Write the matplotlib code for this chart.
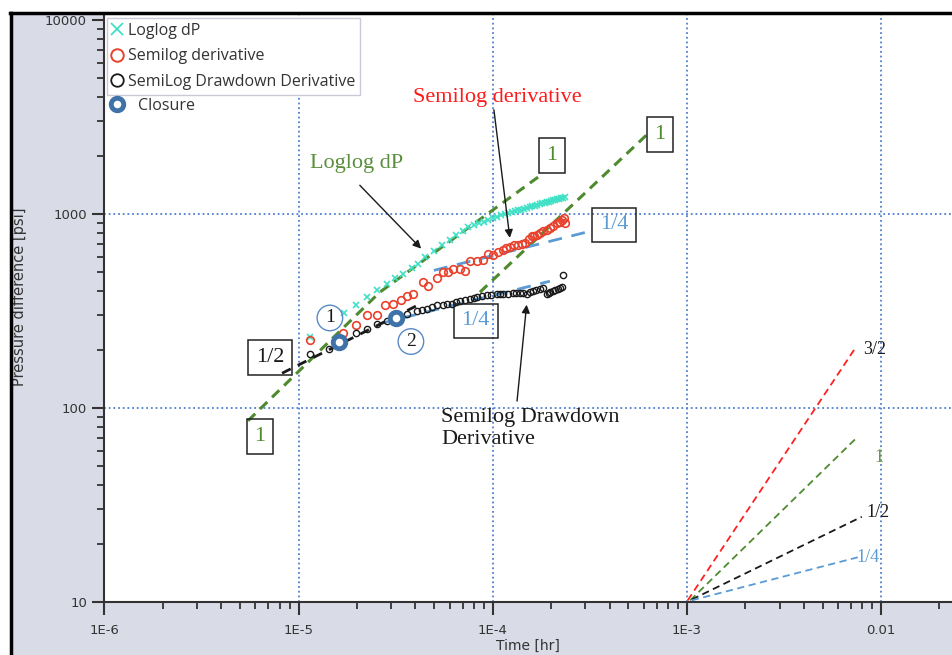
import matplotlib
matplotlib.use("Agg")
import matplotlib.pyplot as plt
from matplotlib.lines import Line2D
from matplotlib.patches import Rectangle
from matplotlib.ticker import FixedLocator, FixedFormatter, LogLocator, NullFormatter

# ---------------- data ----------------
x_ticks = [1e-6, 1e-5, 1e-4, 1e-3, 1e-2]
x_tick_labels = ["1E-6", "1E-5", "1E-4", "1E-3", "0.01"]
y_ticks = [10, 100, 1000, 10000]
y_tick_labels = ["10", "100", "1000", "10000"]

loglog_t = [1.15e-5, 1.71e-5, 1.98e-5, 2.25e-5, 2.53e-5, 2.85e-5, 3.14e-5, 3.45e-5, 3.84e-5, 4.12e-5,
            4.5e-5, 5.0e-5, 5.5e-5, 6.0e-5, 6.5e-5, 7.0e-5, 7.5e-5, 8.0e-5, 8.5e-5, 9.0e-5, 9.5e-5,
            1.0e-4, 1.05e-4, 1.1e-4, 1.15e-4, 1.2e-4, 1.25e-4, 1.3e-4, 1.35e-4, 1.4e-4, 1.45e-4,
            1.5e-4, 1.55e-4, 1.6e-4, 1.65e-4, 1.7e-4, 1.75e-4, 1.8e-4, 1.85e-4, 1.9e-4, 1.95e-4,
            2.0e-4, 2.05e-4, 2.1e-4, 2.15e-4, 2.2e-4, 2.25e-4, 2.3e-4, 2.35e-4]
loglog_p = [233, 310, 340, 372, 404, 434, 467, 492, 525, 552,
            602, 647, 691, 735, 777, 818, 855, 875, 894, 912, 931,
            948, 966, 982, 998, 1009, 1021, 1033, 1044, 1054, 1065,
            1076, 1086, 1096, 1105, 1114, 1124, 1132, 1141, 1150, 1158,
            1166, 1175, 1183, 1191, 1197, 1205, 1213, 1222]

semilog_t = [1.15e-5, 1.69e-5, 1.98e-5, 2.25e-5, 2.53e-5, 2.79e-5, 3.06e-5, 3.36e-5, 3.61e-5, 3.88e-5,
             4.38e-5, 4.63e-5, 5.16e-5, 5.53e-5, 5.87e-5, 6.24e-5, 6.78e-5, 7.19e-5, 7.64e-5, 8.30e-5,
             8.91e-5, 9.45e-5, 1.0e-4, 1.06e-4, 1.13e-4, 1.17e-4, 1.23e-4, 1.29e-4, 1.35e-4, 1.41e-4,
             1.47e-4, 1.53e-4, 1.59e-4, 1.64e-4, 1.69e-4, 1.75e-4, 1.82e-4, 1.90e-4, 1.97e-4, 2.05e-4,
             2.14e-4, 2.21e-4, 2.28e-4, 2.32e-4, 2.36e-4]
semilog_p = [225, 244, 268, 302, 302, 340, 344, 360, 377, 386,
             444, 424, 466, 500, 500, 518, 518, 506, 575, 575,
             582, 618, 611, 633, 655, 665, 679, 690, 695, 700,
             711, 740, 773, 770, 781, 800, 819, 830, 849, 870,
             900, 910, 931, 950, 900]

drawdown_t = [1.15e-5, 1.43e-5, 1.98e-5, 2.25e-5, 2.53e-5, 2.85e-5, 3.3e-5, 3.6e-5, 4.07e-5, 4.3e-5,
              4.58e-5, 4.85e-5, 5.16e-5, 5.53e-5, 5.8e-5, 6.17e-5, 6.5e-5, 6.78e-5, 7.2e-5, 7.64e-5,
              8.0e-5, 8.3e-5, 8.8e-5, 9.33e-5, 9.8e-5, 1.05e-4, 1.09e-4, 1.13e-4, 1.2e-4, 1.27e-4,
              1.32e-4, 1.38e-4, 1.44e-4, 1.50e-4, 1.56e-4, 1.61e-4, 1.68e-4, 1.75e-4, 1.82e-4, 1.90e-4,
              1.94e-4, 1.98e-4, 2.04e-4, 2.10e-4, 2.16e-4, 2.22e-4, 2.28e-4, 2.30e-4]
drawdown_p = [189, 202, 244, 256, 272, 281, 296, 305, 316, 320,
              324, 332, 340, 340, 342, 344, 350, 356, 360, 364,
              368, 373, 378, 382, 384, 386, 386, 386, 388, 391,
              393, 391, 390, 386, 394, 400, 405, 410, 414, 386,
              390, 395, 400, 406, 411, 416, 421, 483]

closure_t = [1.61e-5, 3.17e-5]
closure_p = [220, 291]

# straight-line guides (log-log)
green1_t = [5.49e-6, 2.62e-5, 1.82e-4]
green1_p = [85.9, 395, 1618]
green2_t = [8.59e-5, 6.29e-4]
green2_p = [395, 2588]
half_t = [8.22e-6, 4.22e-5]
half_p = [151, 343]
quarter_up_t = [4.98e-5, 3.09e-4]
quarter_up_p = [512, 809]
quarter_lo_t = [2.62e-5, 1.97e-4]
quarter_lo_p = [272, 450]

# slope fan
fan_red_t = [1.01e-3, 7.33e-3];  fan_red_p = [10.2, 202]
fan_green_t = [1.04e-3, 7.5e-3]; fan_green_p = [10.2, 70.3]
fan_black_t = [1.06e-3, 7.96e-3]; fan_black_p = [10.3, 27.5]
fan_blue_t = [1.06e-3, 7.59e-3]; fan_blue_p = [10.2, 17.0]

# ---------------- style ----------------
TEAL = "#3fe0c5"
RED = "#e8412c"
BLACK = "#1a1a1a"
GREEN = "#4f8a2f"
BLUE = "#5b9bd5"
GRID = "#4f7fd0"
CLOS = "#3f72a8"
SERIF = "Liberation Serif"

fig = plt.figure(figsize=(9.52, 6.55), dpi=100, facecolor="white")
fig.add_artist(Rectangle((11/952, 0), 1 - 11/952, 1 - 13/655, transform=fig.transFigure,
                         facecolor="#d9dbe7", edgecolor="none", zorder=0))
fig.add_artist(Line2D([10/952, 1], [1 - 13/655, 1 - 13/655], transform=fig.transFigure,
                      color="black", lw=2.5, zorder=5))
fig.add_artist(Line2D([11/952, 11/952], [0, 1 - 13/655], transform=fig.transFigure,
                      color="black", lw=2.5, zorder=5))

ax = fig.add_axes([104.4/952, 53/655, (952 - 104.4)/952, (602 - 15)/655])
ax.set_facecolor("white")
ax.set_xscale("log")
ax.set_yscale("log")
ax.set_xlim(1e-6, 0.0232)
ax.set_ylim(10, 10600)

ax.xaxis.set_major_locator(FixedLocator(x_ticks))
ax.xaxis.set_major_formatter(FixedFormatter(x_tick_labels))
ax.yaxis.set_major_locator(FixedLocator(y_ticks))
ax.yaxis.set_major_formatter(FixedFormatter(y_tick_labels))
ax.xaxis.set_minor_locator(LogLocator(base=10, subs=range(2, 10), numticks=20))
ax.yaxis.set_minor_locator(LogLocator(base=10, subs=range(2, 10), numticks=20))
ax.xaxis.set_minor_formatter(NullFormatter())
ax.yaxis.set_minor_formatter(NullFormatter())
ax.tick_params(which="major", length=9, width=1.5, color="#333333", direction="out",
               labelsize=9.5, labelcolor="#333333", pad=3.5)
ax.tick_params(axis="x", which="major", pad=6.5)
ax.tick_params(which="minor", length=5, width=1.3, color="#333333", direction="out")
for s in ["top", "right"]:
    ax.spines[s].set_visible(False)
for s in ["left", "bottom"]:
    ax.spines[s].set_color("#333333")
    ax.spines[s].set_linewidth(1.5)

ax.grid(True, which="major", color=GRID, linestyle=(0, (1, 1.6)), linewidth=1.3, zorder=0)
ax.set_axisbelow(True)
ax.yaxis.get_gridlines()[-1].set_visible(False)

ax.set_xlabel("Time [hr]", fontsize=10, color="#333333", labelpad=2)
ax.set_ylabel("Pressure difference [psi]", fontsize=10.5, color="#333333")
ax.yaxis.set_label_coords(-0.0913, 0.52)

# guides
ax.plot(green1_t, green1_p, color=GREEN, lw=2.2, linestyle=(0, (3.3, 2.2)), zorder=2)
ax.plot(green2_t, green2_p, color=GREEN, lw=2.2, linestyle=(0, (3.3, 2.2)), zorder=2)
ax.plot(half_t, half_p, color=BLACK, lw=2.0, linestyle=(0, (3.5, 2.8)), zorder=4)
ax.plot(quarter_up_t, quarter_up_p, color=BLUE, lw=2.0, linestyle=(0, (5, 3.5)), zorder=2)
ax.plot(quarter_lo_t, quarter_lo_p, color=BLUE, lw=2.0, linestyle=(0, (5, 3.5)), zorder=2)

# data series
ax.plot(loglog_t, loglog_p, ls="none", marker="x", ms=5, mew=1.2, color=TEAL, zorder=3)
ax.plot(semilog_t, semilog_p, ls="none", marker="o", ms=5.5, mew=1.2, mfc="none", mec=RED, zorder=3)
ax.plot(drawdown_t, drawdown_p, ls="none", marker="o", ms=4.5, mew=1.0, mfc="none", mec=BLACK, zorder=3)
ax.plot(closure_t, closure_p, ls="none", marker="o", ms=9, mew=3.5, mfc="white", mec=CLOS, zorder=5)

# slope fan
ax.plot(fan_red_t, fan_red_p, color="#ff2020", lw=1.3, linestyle=(0, (4, 2.5)))
ax.plot(fan_green_t, fan_green_p, color=GREEN, lw=1.3, linestyle=(0, (4, 2.5)))
ax.plot(fan_black_t, fan_black_p, color=BLACK, lw=1.3, linestyle=(0, (4, 2.5)))
ax.plot(fan_blue_t, fan_blue_p, color=BLUE, lw=1.3, linestyle=(0, (4, 2.5)))
ax.text(8.05e-3, 200, "3/2", fontsize=13, family=SERIF, color=BLACK, ha="left", va="center")
ax.text(9.29e-3, 55.6, "1", fontsize=13, family=SERIF, color="#6a9a40", ha="left", va="center")
ax.text(8.45e-3, 28.8, "1/2", fontsize=13, family=SERIF, color=BLACK, ha="left", va="center")
ax.text(7.5e-3, 17.0, "1/4", fontsize=13, family=SERIF, color=BLUE, ha="left", va="center")

# boxed slope labels
def boxed(t, p, s, c):
    ax.text(t, p, s, fontsize=16, family=SERIF, color=c, ha="center", va="center", zorder=6,
            bbox=dict(boxstyle="square,pad=0.35", fc="none", ec="#222222", lw=1.1))

boxed(7.13e-6, 182, "1/2", BLACK)
boxed(6.33e-6, 71.1, "1", GREEN)
boxed(2.02e-4, 2000, "1", GREEN)
boxed(7.26e-4, 2559, "1", GREEN)
boxed(4.21e-4, 879, "1/4", BLUE)
boxed(8.18e-5, 281, "1/4", BLUE)

# circled closure numbers
for t, p, s in [(1.45e-5, 291, "1"), (3.79e-5, 220, "2")]:
    ax.text(t, p, s, fontsize=14, family=SERIF, color=BLACK, ha="center", va="center", zorder=6,
            bbox=dict(boxstyle="circle,pad=0.22", fc="none", ec="#5a8ac6", lw=1.0))

# annotations
ax.text(1.98e-5, 1820, "Loglog dP", fontsize=16, family=SERIF, color="#5b8f3e", ha="center", va="center")
ax.annotate("", xy=(4.38e-5, 647), xytext=(2.02e-5, 1439),
            arrowprops=dict(arrowstyle="-|>", color=BLACK, lw=1.0, mutation_scale=12))
ax.text(1.05e-4, 4000, "Semilog derivative", fontsize=16, family=SERIF, color="#ff1a1a",
        ha="center", va="center")
ax.annotate("", xy=(1.23e-4, 728), xytext=(1.01e-4, 3556),
            arrowprops=dict(arrowstyle="-|>", color=BLACK, lw=1.0, mutation_scale=12))
ax.text(5.41e-5, 78.2, "Semilog Drawdown\nDerivative", fontsize=16, family=SERIF, color=BLACK,
        ha="left", va="center", linespacing=1.2)
ax.annotate("", xy=(1.50e-4, 352), xytext=(1.33e-4, 105),
            arrowprops=dict(arrowstyle="-|>", color=BLACK, lw=1.0, mutation_scale=12))

# legend
h1 = Line2D([], [], ls="none", marker="x", ms=8, mew=1.3, color=TEAL)
h2 = Line2D([], [], ls="none", marker="o", ms=9, mew=1.4, mfc="none", mec=RED)
h3 = Line2D([], [], ls="none", marker="o", ms=9, mew=1.3, mfc="none", mec=BLACK)
leg = ax.legend([h1, h2, h3], ["Loglog dP", "Semilog derivative", "SemiLog Drawdown Derivative"],
                loc="upper left", bbox_to_anchor=(0.003, 0.995), frameon=True, fancybox=False,
                edgecolor="#c8cad8", framealpha=1, prop={"family": "Open Sans", "size": 11.5},
                handlelength=0.7, handletextpad=0.3, borderpad=0.3, labelspacing=0.6,
                borderaxespad=0)
leg.get_frame().set_linewidth(1.0)
for txt in leg.get_texts():
    txt.set_color("#333333")
ax.add_artist(leg)
hc = Line2D([], [], ls="none", marker="o", ms=9, mew=3.5, mfc="white", mec=CLOS)
leg2 = ax.legend([hc], ["Closure"], loc="upper left", bbox_to_anchor=(0.004, 0.864), frameon=False,
                 prop={"family": "Open Sans", "size": 11.5}, handlelength=0.7, handletextpad=1.0,
                 borderpad=0.2, borderaxespad=0)
for txt in leg2.get_texts():
    txt.set_color("#333333")

fig.savefig("out.png", dpi=100, facecolor=fig.get_facecolor())
